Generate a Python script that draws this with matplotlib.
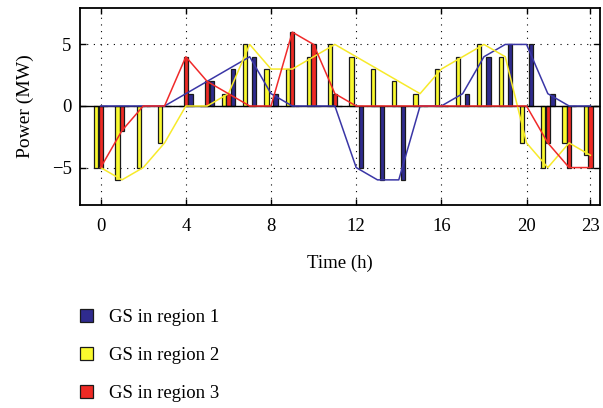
import numpy as np
import matplotlib.pyplot as plt
from matplotlib.patches import Patch

# hours of the day
hours = np.arange(24)
# power of the generating sets (MW), one list per region
gs_region1 = [0, 0, 0, 0, 1, 2, 3, 4, 1, 0, 0, 0, -5, -6, -6, 0, 0, 1, 4, 5, 5, 1, 0, 0]
gs_region2 = [-5, -6, -5, -3, 0, 0, 1, 5, 3, 3, 4, 5, 4, 3, 2, 1, 3, 4, 5, 4, -3, -5, -3, -4]
gs_region3 = [-5, -2, 0, 0, 4, 2, 1, 0, 0, 6, 5, 1, 0, 0, 0, 0, 0, 0, 0, 0, 0, -3, -5, -5]

labels = ['GS in region 1', 'GS in region 2', 'GS in region 3']
xticks = [0, 4, 8, 12, 16, 20, 23]

c_blue = '#2f2b8e'
c_yellow = '#fafa2e'
c_red = '#ee2a24'

plt.rcParams['font.family'] = ['Liberation Serif', 'DejaVu Serif']

fig = plt.figure(figsize=(6.03, 4.08), dpi=100)
ax = fig.add_axes([80 / 603, 1 - 204.5 / 408, 520 / 603, 197 / 408])

w = 0.2
off = 0.215
edge = dict(edgecolor='#1a1a1a', linewidth=0.9, zorder=3)
ax.bar(hours - off, gs_region2, w, color=c_yellow, **edge)
ax.bar(hours, gs_region3, w, color=c_red, **edge)
ax.bar(hours + off, gs_region1, w, color=c_blue, **edge)

ax.axhline(0, color='black', lw=1.0, zorder=3.5)

ax.plot(hours, gs_region1, color='#3a36a6', lw=1.1, zorder=4)
ax.plot(hours, gs_region2, color='#f7ea2a', lw=1.1, zorder=4)
ax.plot(hours, gs_region3, color='#f02a2a', lw=1.1, zorder=4)

ax.set_xlim(-0.97, 23.45)
ax.set_ylim(-8, 8)
ax.set_xticks(xticks)
ax.set_yticks([-5, 0, 5])
ax.grid(True, color='black', lw=0.8, ls=(0, (1, 5)), zorder=1)
ax.set_axisbelow(True)
ax.tick_params(direction='in', top=True, right=True, length=4.5, width=1,
               labelsize=13.5, pad=10)
ax.tick_params(axis='y', pad=6)
for s in ax.spines.values():
    s.set_linewidth(1.3)

ax.set_xlabel('Time (h)', fontsize=13.5, labelpad=14)
ax.set_ylabel('Power (MW)', fontsize=14, labelpad=13)

handles = [Patch(facecolor=c, edgecolor='#1a1a1a', linewidth=0.9)
           for c in (c_blue, c_yellow, c_red)]
fig.legend(handles, labels, loc='upper left', bbox_to_anchor=(80 / 603, 1 - 309 / 408),
           frameon=False, fontsize=13.5, handlelength=0.7, handleheight=0.7,
           handletextpad=0.85, labelspacing=1.1, borderpad=0, borderaxespad=0)

fig.savefig('out.png', dpi=100)
